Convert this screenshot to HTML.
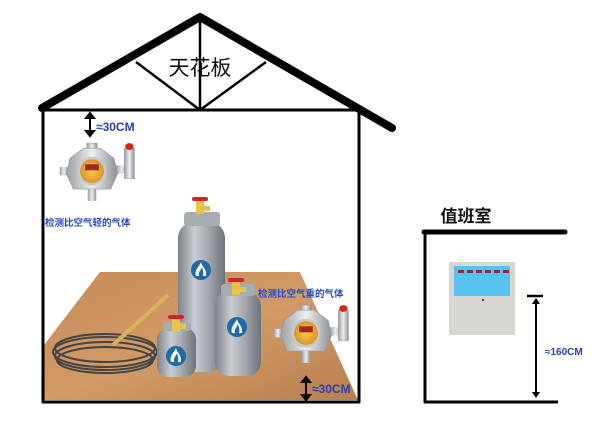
<!DOCTYPE html>
<html><head><meta charset="utf-8"><style>
body{margin:0;background:#fff;width:609px;height:432px;overflow:hidden}
svg{display:block}
text{font-family:"Liberation Sans","Noto Sans CJK SC",sans-serif}
</style></head><body>
<svg width="609" height="432" viewBox="0 0 609 432">
<defs>
<linearGradient id="wood" x1="0" y1="0" x2="1" y2="1"><stop offset="0" stop-color="#c48c5a"/><stop offset="0.5" stop-color="#d29a66"/><stop offset="1" stop-color="#b7804f"/></linearGradient>
<linearGradient id="cyl" x1="0" y1="0" x2="1" y2="0"><stop offset="0" stop-color="#7d8288"/><stop offset="0.35" stop-color="#c9cdd1"/><stop offset="0.6" stop-color="#a9aeb3"/><stop offset="1" stop-color="#6e7379"/></linearGradient>
<linearGradient id="met" x1="0" y1="0" x2="1" y2="0"><stop offset="0" stop-color="#9a9ea2"/><stop offset="0.5" stop-color="#eceef0"/><stop offset="1" stop-color="#8d9196"/></linearGradient>
<radialGradient id="disp"><stop offset="0" stop-color="#f7c94a"/><stop offset="1" stop-color="#d9952a"/></radialGradient>
<g id="det">
 <rect x="-6" y="-4" width="12" height="8" fill="url(#met)" stroke="#888" stroke-width="0.5" transform="translate(0,-30)"/>
 <rect x="-38" y="-6" width="10" height="10" fill="url(#met)"/>
 <rect x="28" y="-8" width="14" height="10" fill="url(#met)"/>
 <polygon points="-26,-16 -10,-28 10,-28 26,-16 30,2 22,20 -22,20 -30,2" fill="url(#met)" stroke="#999" stroke-width="0.8"/>
 <circle cx="0" cy="-1" r="17" fill="#c9c9c9"/>
 <circle cx="0" cy="-1" r="14" fill="url(#disp)"/>
 <rect x="-8" y="-9" width="16" height="7" fill="#a0281c"/>
 <rect x="-5" y="20" width="10" height="14" fill="url(#met)"/>
 <rect x="38" y="-28" width="12" height="36" fill="url(#met)" stroke="#999" stroke-width="0.5"/>
 <ellipse cx="44" cy="-30" rx="5" ry="4" fill="#d6231c"/>
</g>
<g id="flame"><circle r="10" fill="#1f6aa8"/><path d="M-5,6 C-7,0 -2,-3 0,-8 C1,-3 6,-1 5,6 Z" fill="#fff"/><path d="M-2,6 C-3,2 0,0 1,-3 C2,1 3,3 2,6Z" fill="#1f6aa8"/></g>
<g id="valve"><rect x="-4" y="0" width="8" height="14" fill="#e8c34a"/><rect x="-8" y="-3" width="16" height="4" rx="2" fill="#d0232a"/><rect x="4" y="6" width="6" height="5" fill="#e8c34a"/></g>
</defs>

<polygon points="100,272 300,272 358,400 44,400 44,345" fill="url(#wood)"/>
<g stroke="#000" fill="none">
<polyline points="42,108 200,17 392,128" stroke-width="8" stroke-linecap="round" stroke-linejoin="round"/>
<line x1="42" y1="110" x2="359" y2="110" stroke-width="3"/>
<line x1="200" y1="20" x2="200" y2="110" stroke-width="2.5"/>
<line x1="136" y1="62" x2="200" y2="110" stroke-width="2.5"/>
<line x1="266" y1="62" x2="200" y2="110" stroke-width="2.5"/>
<line x1="43" y1="110" x2="43" y2="403" stroke-width="3"/>
<line x1="359" y1="110" x2="359" y2="403" stroke-width="3"/>
<line x1="42" y1="402" x2="360" y2="402" stroke-width="3"/>
</g>
<text x="200" y="75" font-size="21" text-anchor="middle" fill="#111">天花板</text>

<g stroke="#000" stroke-width="2" fill="#000">
<line x1="90" y1="117" x2="90" y2="132"/><polygon points="86,118 94,118 90,113"/><polygon points="86,131 94,131 90,136"/>
<line x1="306" y1="381" x2="306" y2="396"/><polygon points="302,382 310,382 306,377"/><polygon points="302,395 310,395 306,400"/>
</g>
<text x="96" y="131" font-size="12" font-weight="bold" fill="#2a3fb0">≈30CM</text>
<text x="312" y="393" font-size="12" font-weight="bold" fill="#2a3fb0">≈30CM</text>
<text x="45" y="226" font-size="9.5" font-weight="bold" fill="#2348c8">检测比空气轻的气体</text>
<text x="258" y="297" font-size="9.5" font-weight="bold" fill="#2348c8">检测比空气重的气体</text>

<g transform="translate(92,172) scale(0.85)"><use href="#det"/></g>
<g transform="translate(306,334) scale(0.85)"><use href="#det"/></g>

<g fill="none" stroke="#444" stroke-width="2">
<ellipse cx="105" cy="348" rx="50" ry="14"/><ellipse cx="105" cy="352" rx="52" ry="15"/><ellipse cx="105" cy="356" rx="50" ry="14"/><ellipse cx="105" cy="360" rx="48" ry="13"/>
</g>
<line x1="113" y1="345" x2="168" y2="295" stroke="#d8b25a" stroke-width="4"/>

<rect x="178" y="222" width="47" height="150" rx="16" fill="url(#cyl)"/>
<rect x="184" y="212" width="36" height="14" rx="3" fill="#a7acb1"/>
<use href="#valve" x="200" y="200"/>
<use href="#flame" x="201" y="270"/>
<rect x="215" y="292" width="46" height="84" rx="14" fill="url(#cyl)"/>
<rect x="221" y="284" width="34" height="12" rx="3" fill="#a7acb1"/>
<use href="#valve" x="236" y="281"/>
<use href="#flame" x="237" y="327"/>
<rect x="157" y="328" width="39" height="49" rx="11" fill="url(#cyl)"/>
<rect x="163" y="322" width="28" height="9" rx="3" fill="#a7acb1"/>
<use href="#valve" x="176" y="318"/>
<use href="#flame" x="176" y="356"/>

<text x="466" y="222" font-size="17" font-weight="bold" text-anchor="middle" fill="#111">值班室</text>
<g stroke="#000" fill="none">
<line x1="424" y1="232" x2="565" y2="232" stroke-width="5" stroke-linecap="round"/>
<line x1="425" y1="232" x2="425" y2="403" stroke-width="3"/>
<line x1="424" y1="402" x2="558" y2="402" stroke-width="3"/>
<line x1="527" y1="296" x2="543" y2="296" stroke-width="2.5"/>
<line x1="536" y1="302" x2="536" y2="394" stroke-width="2"/>
</g>
<polygon points="532,304 540,304 536,298" fill="#000"/>
<polygon points="532,392 540,392 536,398" fill="#000"/>
<text x="545" y="355" font-size="10" font-weight="bold" fill="#2a3fb0">≈160CM</text>
<rect x="449" y="262" width="66" height="73" fill="#d8d6d0"/>
<rect x="454" y="266" width="56" height="30" fill="#58c3f0"/>
<g fill="#8a2a3a"><rect x="458" y="270" width="6" height="3"/><rect x="467" y="270" width="6" height="3"/><rect x="476" y="270" width="6" height="3"/><rect x="485" y="270" width="6" height="3"/><rect x="494" y="270" width="6" height="3"/><rect x="503" y="270" width="6" height="3"/></g>
<circle cx="483" cy="300" r="1.2" fill="#444"/>
</svg>
</body></html>
